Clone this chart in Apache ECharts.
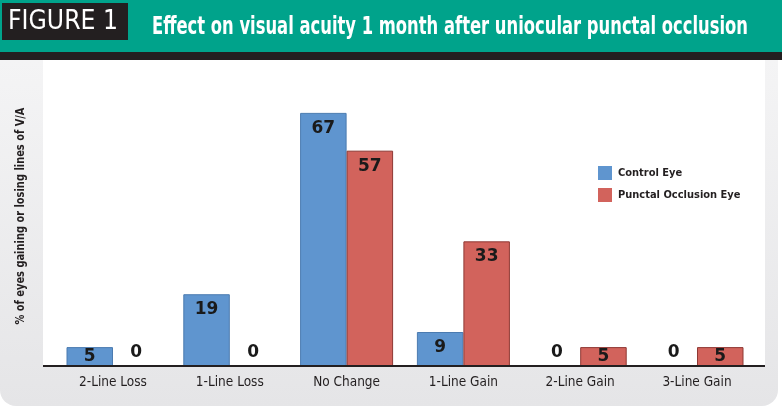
<!DOCTYPE html>
<html><head><meta charset="utf-8">
<script src="https://cdn.jsdelivr.net/npm/echarts@6/dist/echarts.min.js"></script>
<style>html,body{margin:0;padding:0;background:#fff}#c{width:782px;height:411px}</style>
</head><body><div id="c"></div>
<script>
const categories = ['2-Line Loss','1-Line Loss','No Change','1-Line Gain','2-Line Gain','3-Line Gain'];
const controlEye = [5, 19, 67, 9, 0, 0];
const punctalEye = [0, 0, 57, 33, 5, 5];
const seriesNames = ['Control Eye','Punctal Occlusion Eye'];
const figureLabel = 'FIGURE 1';
const titleText = 'Effect on visual acuity 1 month after uniocular punctal occlusion';
const yTitle = '% of eyes gaining or losing lines of V/A';

const NARROW = '"Liberation Sans Narrow","DejaVu Sans Condensed",Arial,sans-serif';
function fitScale(text, font, target){
  const c = document.createElement('canvas').getContext('2d');
  c.font = font;
  const w = c.measureText(text).width;
  return w > 0 ? target / w : 1;
}

function labelFor(v){
  if (v === 0) return {position:'top', distance:4};
  if (v < 9) return {position:'inside'};
  return {position:'insideTop', distance:7};
}
function build(vals){ return vals.map(v => ({value:v, label:labelFor(v)})); }

const chart = echarts.init(document.getElementById('c'), null, {renderer:'canvas'});
const titleFont = 'bold 24px ' + NARROW;
const figFont = '26px ' + NARROW;
const yFont = 'bold 12px ' + NARROW;

chart.setOption({
  backgroundColor:'#ffffff',
  animation:false,
  graphic:[
    {type:'rect', z:-10, shape:{x:0,y:0,width:782,height:52}, style:{fill:'#00a38b'}},
    {type:'rect', z:-10, shape:{x:0,y:52,width:782,height:8}, style:{fill:'#231f20'}},
    {type:'rect', z:-10, shape:{x:2,y:3,width:126,height:37}, style:{fill:'#231f20'}},
    {type:'text', z:-5, x:63, y:22, scaleX:fitScale(figureLabel, figFont, 110),
      style:{text:figureLabel, font:figFont, fill:'#ffffff', align:'center', verticalAlign:'middle'}},
    {type:'text', z:-5, x:450, y:28, scaleX:fitScale(titleText, titleFont, 596),
      style:{text:titleText, font:titleFont, fill:'#ffffff', align:'center', verticalAlign:'middle'}},
    {type:'rect', z:-10, shape:{x:0,y:60,width:778,height:346,r:[0,0,16,16]},
      style:{fill:new echarts.graphic.LinearGradient(0,0,0,1,[{offset:0,color:'#f4f4f5'},{offset:1,color:'#e5e5e7'}])}},
    {type:'rect', z:-9, shape:{x:43,y:60,width:722,height:306}, style:{fill:'#ffffff'}},
    {type:'line', z:50, shape:{x1:43,y1:366,x2:765,y2:366}, style:{stroke:'#231f20', lineWidth:2}},
    {type:'text', z:-5, x:21, y:216, rotation:Math.PI/2, scaleX:fitScale(yTitle, yFont, 217),
      style:{text:yTitle, font:yFont, fill:'#231f20', align:'center', verticalAlign:'middle'}}
  ],
  legend:{
    orient:'vertical', left:598, top:166, padding:0, itemWidth:14, itemHeight:14, itemGap:8,
    icon:'rect', itemStyle:{borderWidth:0},
    textStyle:{fontFamily:NARROW, fontWeight:'bold', fontSize:11, color:'#231f20', padding:[0,0,0,1]},
    data:seriesNames
  },
  grid:{left:54.6, right:26.6, top:60, bottom:45},
  xAxis:{
    type:'category', data:categories,
    axisLine:{show:false}, axisTick:{show:false},
    axisLabel:{fontFamily:NARROW, fontSize:13.5, color:'#231f20', margin:9}
  },
  yAxis:{type:'value', min:0, max:81, show:false, splitLine:{show:false}},
  series:[
    {name:seriesNames[0], type:'bar', data:build(controlEye), barWidth:46.5, barGap:'0%',
      itemStyle:{color:'#5f95cf', borderColor:'#4b7bb0', borderWidth:1},
      label:{show:true, fontFamily:'"DejaVu Sans",sans-serif', fontWeight:'bold', fontSize:17, color:'#1a1a1a'}},
    {name:seriesNames[1], type:'bar', data:build(punctalEye), barWidth:46.5, barGap:'0%',
      itemStyle:{color:'#d2635c', borderColor:'#8e3833', borderWidth:1},
      label:{show:true, fontFamily:'"DejaVu Sans",sans-serif', fontWeight:'bold', fontSize:17, color:'#1a1a1a'}}
  ]
});
</script></body></html>
